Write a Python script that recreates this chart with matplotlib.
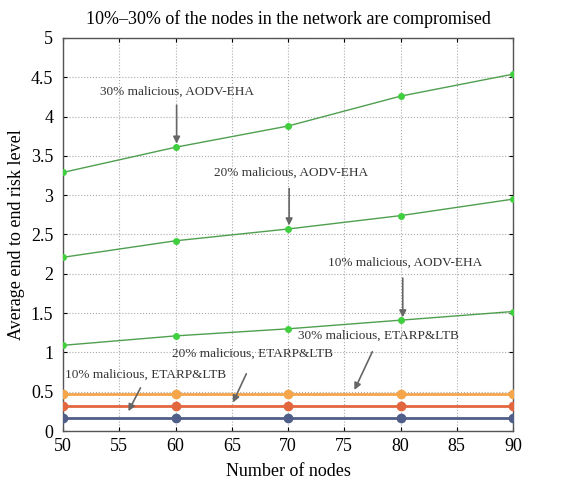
import matplotlib
matplotlib.use("Agg")
import matplotlib.pyplot as plt

nodes = [50, 60, 70, 80, 90]
aodv_30 = [3.29, 3.61, 3.88, 4.26, 4.54]
aodv_20 = [2.21, 2.42, 2.57, 2.74, 2.95]
aodv_10 = [1.09, 1.21, 1.30, 1.41, 1.52]
etarp_30 = [0.47, 0.47, 0.47, 0.47, 0.47]
etarp_20 = [0.32, 0.32, 0.32, 0.32, 0.32]
etarp_10 = [0.16, 0.16, 0.16, 0.16, 0.16]

title = "10%–30% of the nodes in the network are compromised"
xlabel = "Number of nodes"
ylabel = "Average end to end risk level"

plt.rcParams['font.family'] = ['Liberation Serif', 'DejaVu Serif']

fig = plt.figure(figsize=(5.82, 4.91), dpi=100)
ax = fig.add_axes([63/582, 1-431/491, (513-63)/582, (431-38)/491])

green = '#4f9f4f'
gm = '#3fcf3f'
for ys in (aodv_30, aodv_20, aodv_10):
    ax.plot(nodes, ys, color=green, lw=1.0, marker='o', ms=4,
            mfc=gm, mec=gm, zorder=3)

ax.plot(nodes, etarp_30, color='#f5a54a', lw=2.0, marker='o', ms=6,
        mfc='#f5a54a', mec='#f5a54a', zorder=3)
ax.plot(nodes, etarp_20, color='#e2673e', lw=2.0, marker='o', ms=6,
        mfc='#e2673e', mec='#e2673e', zorder=3)
ax.plot(nodes, etarp_10, color='#4f5f8a', lw=2.0, marker='o', ms=6,
        mfc='#4f5f8a', mec='#4f5f8a', zorder=3)

ax.set_xlim(50, 90)
ax.set_ylim(0, 5)
ax.set_xticks(range(50, 91, 5))
ax.set_yticks([0, 0.5, 1, 1.5, 2, 2.5, 3, 3.5, 4, 4.5, 5])
ax.set_yticklabels(['0', '0.5', '1', '1.5', '2', '2.5', '3', '3.5', '4', '4.5', '5'])
ax.grid(True, linestyle=':', color='#aaaaaa', lw=0.8)
ax.tick_params(direction='in', labelsize=13, top=True, right=True, length=3)
ax.tick_params(axis='y', pad=7)
ax.tick_params(axis='x', pad=5)
for s in ax.spines.values():
    s.set_color('#555555')
    s.set_linewidth(1.0)

ax.set_title(title, fontsize=13, pad=10)
ax.set_xlabel(xlabel, fontsize=13, labelpad=6)
ax.set_ylabel(ylabel, fontsize=13, labelpad=4)

arrow = dict(arrowstyle='-|>', color='#666666', lw=1.2, mutation_scale=10)
fs = 9.5
ax.annotate("30% malicious, AODV-EHA", xy=(60.1, 3.62), xytext=(60.1, 4.32),
            ha='center', va='center', fontsize=fs, color='#333333')
ax.annotate("", xy=(60.1, 3.62), xytext=(60.1, 4.18), arrowprops=arrow)

ax.annotate("20% malicious, AODV-EHA", xy=(70.1, 2.58), xytext=(70.3, 3.28),
            ha='center', va='center', fontsize=fs, color='#333333')
ax.annotate("", xy=(70.1, 2.58), xytext=(70.1, 3.12), arrowprops=arrow)

ax.annotate("10% malicious, AODV-EHA", xy=(80.2, 1.41), xytext=(80.4, 2.14),
            ha='center', va='center', fontsize=fs, color='#333333')
ax.annotate("", xy=(80.2, 1.41), xytext=(80.2, 1.98), arrowprops=arrow)

ax.annotate("30% malicious, ETARP&LTB", xy=(75.8, 0.49), xytext=(78.0, 1.21),
            ha='center', va='center', fontsize=fs, color='#333333')
ax.annotate("", xy=(75.8, 0.49), xytext=(77.6, 1.04), arrowprops=arrow)

ax.annotate("20% malicious, ETARP&LTB", xy=(65.0, 0.33), xytext=(66.8, 0.98),
            ha='center', va='center', fontsize=fs, color='#333333')
ax.annotate("", xy=(65.0, 0.33), xytext=(66.4, 0.76), arrowprops=arrow)

ax.annotate("10% malicious, ETARP&LTB", xy=(55.7, 0.22), xytext=(57.3, 0.72),
            ha='center', va='center', fontsize=fs, color='#333333')
ax.annotate("", xy=(55.7, 0.22), xytext=(57.0, 0.58), arrowprops=arrow)

fig.savefig("out.png", dpi=100)
